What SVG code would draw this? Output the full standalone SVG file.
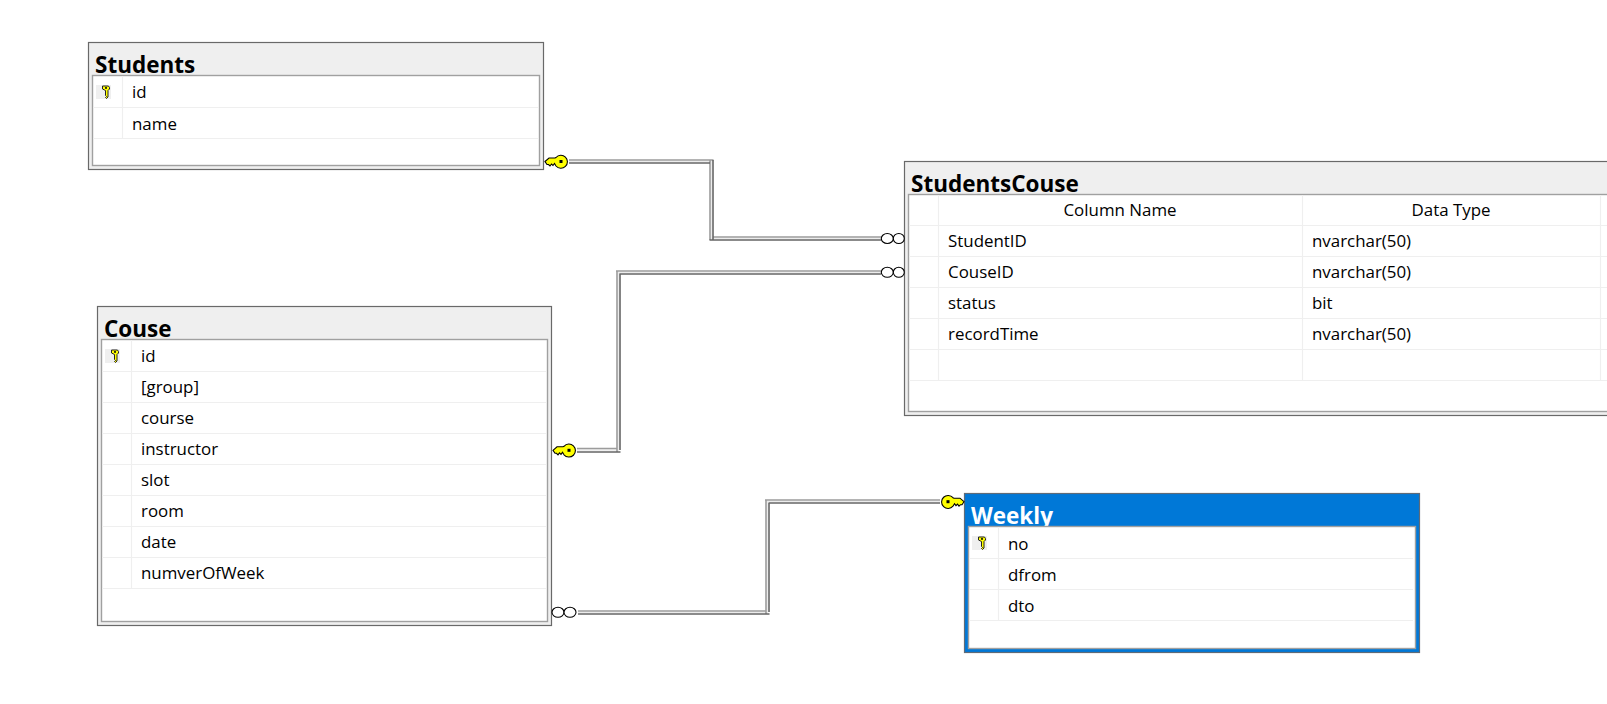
<svg xmlns="http://www.w3.org/2000/svg" width="1607" height="704" viewBox="0 0 1607 704">
<style>
text{font-family:"Open Sans","Noto Sans","Liberation Sans",sans-serif;fill:#000}
.title{font-size:22.500px;font-weight:700}
.cell{font-size:16.900px}
.outer{fill:#efefef;stroke:#696969;stroke-width:1.2}
.sel{fill:#0078d7;stroke:#5f6b78;stroke-width:1.2}
.inner{fill:#fff;stroke:#a0a0a0;stroke-width:1.4}
.grid{fill:none;stroke:#efefef;stroke-width:1.2}
.lt{fill:none;stroke:#9c9c9c;stroke-width:1.6}
.dk{fill:none;stroke:#666;stroke-width:1.6}
.mid{fill:none;stroke:#ececec;stroke-width:1.4}
.inf{fill:#fff;stroke:#000;stroke-width:1.100}
.head{text-anchor:middle}
</style>
<defs>
<g id="bigkey">
<path d="M-16,0 L-12,-3.500 H-6 L-5,-4 A6.500 6.500 0 1 1 -5,4.500 L-6.500,2 L-8,4 L-9.500,2.500 L-11,4.500 L-12.500,3 L-14,3 Z" fill="#ff0" stroke="#000" stroke-width="1.100"/>
<rect x="-1.500" y="-1.500" width="3" height="3" fill="#000"/>
</g>
<g id="smallkey">
<rect x="-10.500" y="-7" width="15" height="14" fill="#efefef"/>
<path d="M-4,-6 H2 L3,-4.500 V-3 L1.500,-1.500 V5 L0,6.500 L-1,5.500 L0,4.500 L-1,3.500 V-1.500 L-4,-3 Z" fill="#ff0" stroke="#222" stroke-width="1"/>
<rect x="-1.500" y="-4.800" width="2" height="1.500" fill="#000"/>
</g>
</defs>

<g id="node-students">
<rect class="outer" x="88.500" y="42.500" width="455" height="127"/>
<text class="title" x="95" y="72.700">Students</text>
<rect class="inner" x="92.500" y="75.500" width="447" height="90"/>
<path class="grid" d="M93,107.500H538M93,138.500H538M122.500,76V138"/>
<use href="#smallkey" x="106.500" y="92"/>
<text class="cell" x="132" y="98">id</text>
<text class="cell" x="132" y="130">name</text>
</g>

<g id="node-couse">
<rect class="outer" x="97.500" y="306.500" width="454" height="319"/>
<text class="title" x="104" y="336.700">Couse</text>
<rect class="inner" x="101.500" y="339.500" width="446" height="282"/>
<path class="grid" d="M102,371.500H546M102,402.500H546M102,433.500H546M102,464.500H546M102,495.500H546M102,526.500H546M102,557.500H546M102,588.500H546M131.500,340V588"/>
<use href="#smallkey" x="115.500" y="356"/>
<text class="cell" x="141" y="362">id</text>
<text class="cell" x="141" y="393">[group]</text>
<text class="cell" x="141" y="424">course</text>
<text class="cell" x="141" y="455">instructor</text>
<text class="cell" x="141" y="486">slot</text>
<text class="cell" x="141" y="517">room</text>
<text class="cell" x="141" y="548">date</text>
<text class="cell" x="141" y="579">numverOfWeek</text>
</g>

<g id="node-studentscouse">
<rect class="outer" x="904.500" y="161.500" width="720" height="254"/>
<text class="title" x="911" y="191.700">StudentsCouse</text>
<rect class="inner" x="908.500" y="194.500" width="710" height="217"/>
<path class="grid" d="M909,225.500H1607M909,256.500H1607M909,287.500H1607M909,318.500H1607M909,349.500H1607M909,380.500H1607M938.500,195V380M1302.500,195V380M1600.500,195V380"/>
<text class="cell head" x="1120" y="216">Column Name</text>
<text class="cell head" x="1451" y="216">Data Type</text>
<text class="cell" x="948" y="247">StudentID</text>
<text class="cell" x="1312" y="247">nvarchar(50)</text>
<text class="cell" x="948" y="278">CouseID</text>
<text class="cell" x="1312" y="278">nvarchar(50)</text>
<text class="cell" x="948" y="309">status</text>
<text class="cell" x="1312" y="309">bit</text>
<text class="cell" x="948" y="340">recordTime</text>
<text class="cell" x="1312" y="340">nvarchar(50)</text>
</g>

<g id="node-weekly">
<rect class="sel" x="964.500" y="493.500" width="455" height="159"/>
<text class="title" x="971" y="523.700" style="fill:#fff">Weekly</text>
<rect class="inner" x="968.500" y="526.500" width="447" height="122"/>
<path class="grid" d="M969,558.500H1413M969,589.500H1413M969,620.500H1413M998.500,527V620"/>
<use href="#smallkey" x="982.500" y="543"/>
<text class="cell" x="1008" y="550">no</text>
<text class="cell" x="1008" y="581">dfrom</text>
<text class="cell" x="1008" y="612">dto</text>
</g>

<g id="connectors">
<g id="conn-students-studentscouse">
<path class="mid" d="M569,161.500H711.500V238.500H881"/>
<path class="lt" d="M569,160H713.500M710,160V240M713,237H881"/>
<path class="dk" d="M569,163H710M713,160V240M709.500,240H881"/>
<use href="#bigkey" x="561" y="161.500"/>
<ellipse class="inf" cx="887.300" cy="238.500" rx="6" ry="5"/>
<ellipse class="inf" cx="898.800" cy="238.500" rx="5.500" ry="5"/>
</g>
<g id="conn-couse-studentscouse">
<path class="mid" d="M577,450H618.500V272.500H881"/>
<path class="lt" d="M577,448.500H617M617,452V270.500M616,271H881"/>
<path class="dk" d="M577,452H620.500M620,450V273.500M619.500,274H881"/>
<use href="#bigkey" x="569" y="450.300"/>
<ellipse class="inf" cx="887.300" cy="272.300" rx="6" ry="5"/>
<ellipse class="inf" cx="898.800" cy="272.300" rx="5.500" ry="5"/>
</g>
<g id="conn-couse-weekly">
<path class="mid" d="M578,612.500H767.500V501.500H940"/>
<path class="lt" d="M578,611H766M766,614V500M765,500H940"/>
<path class="dk" d="M578,614H769.500M769,612V503M768.500,503H940"/>
<ellipse class="inf" cx="558" cy="612.300" rx="6" ry="5"/>
<ellipse class="inf" cx="570" cy="612.300" rx="6" ry="5"/>
<use href="#bigkey" transform="translate(948,501.700) scale(-1,1)"/>
</g>
</g>
</svg>
